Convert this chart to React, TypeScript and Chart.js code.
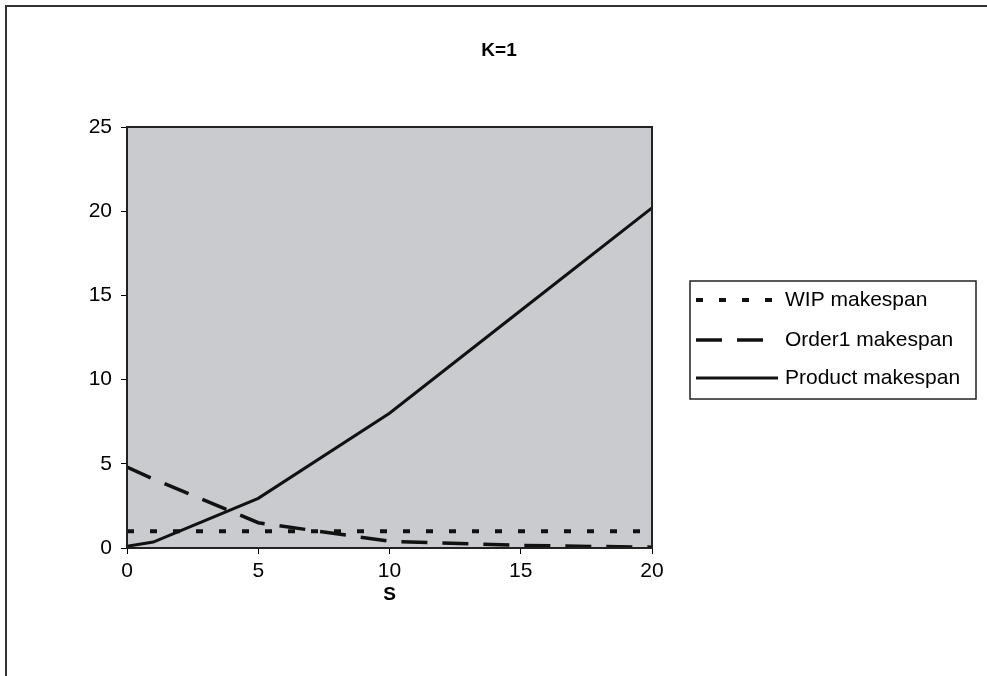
import React, { useEffect, useRef } from 'react';
import { Chart, registerables } from 'chart.js';

Chart.register(...registerables);

const sValues = [0, 1, 5, 10, 15, 20];
const wipMakespan = [1, 1, 1, 1, 1, 1];
const order1Makespan = [4.8, 4.1, 1.5, 0.4, 0.15, 0.05];
const productMakespan = [0.1, 0.35, 2.95, 8.0, 14.1, 20.2];
const seriesLabels = ['WIP makespan', 'Order1 makespan', 'Product makespan'];
const seriesDash = [[7, 16], [26, 15], []];
const seriesWidth = [4, 3.5, 3];
const chartTitle = 'K=1';
const xTitle = 'S';

const FONT = "'Liberation Sans', Arial, sans-serif";

const decor = {
  id: 'decor',
  beforeDraw(chart: any) {
    const { ctx, chartArea: a } = chart;
    ctx.save();
    ctx.fillStyle = '#ffffff';
    ctx.fillRect(0, 0, chart.width, chart.height);
    ctx.strokeStyle = '#333333';
    ctx.lineWidth = 2;
    ctx.beginPath();
    ctx.moveTo(6, chart.height);
    ctx.lineTo(6, 6);
    ctx.lineTo(chart.width, 6);
    ctx.stroke();
    ctx.fillStyle = '#c9cbcf';
    ctx.fillRect(a.left, a.top, a.right - a.left, a.bottom - a.top);
    ctx.restore();
  },
  afterDraw(chart: any) {
    const { ctx, chartArea: a } = chart;
    ctx.save();
    ctx.strokeStyle = '#222222';
    ctx.lineWidth = 2;
    ctx.strokeRect(a.left, a.top, a.right - a.left, a.bottom - a.top);
    ctx.fillStyle = '#000';
    ctx.font = `bold 19px ${FONT}`;
    ctx.textAlign = 'center';
    ctx.textBaseline = 'middle';
    ctx.fillText(chartTitle, 499, 51);
    const lx = 690, ly = 281, lw = 286, lh = 118;
    ctx.fillStyle = '#ffffff';
    ctx.fillRect(lx, ly, lw, lh);
    ctx.strokeStyle = '#222';
    ctx.lineWidth = 1.5;
    ctx.strokeRect(lx, ly, lw, lh);
    const rows = [300, 340, 378];
    chart.data.datasets.forEach((ds: any, i: number) => {
      const y = rows[i];
      ctx.save();
      ctx.strokeStyle = ds.borderColor;
      ctx.lineWidth = ds.borderWidth;
      ctx.setLineDash(ds.borderDash || []);
      ctx.beginPath();
      ctx.moveTo(696, y);
      ctx.lineTo(778, y);
      ctx.stroke();
      ctx.restore();
      ctx.fillStyle = '#000';
      ctx.font = `21px ${FONT}`;
      ctx.textAlign = 'left';
      ctx.textBaseline = 'middle';
      ctx.fillText(ds.label, 785, y);
    });
    ctx.restore();
  },
};

export default function App() {
  const ref = useRef<HTMLCanvasElement>(null);
  useEffect(() => {
    const series = [wipMakespan, order1Makespan, productMakespan];
    const chart = new Chart(ref.current as HTMLCanvasElement, {
      type: 'line',
      data: {
        datasets: series.map((vals, i) => ({
          label: seriesLabels[i],
          data: sValues.map((s, j) => ({ x: s, y: vals[j] })),
          borderColor: '#111111',
          borderWidth: seriesWidth[i],
          borderDash: seriesDash[i],
          pointRadius: 0,
          tension: 0,
          fill: false,
        })),
      },
      options: {
        responsive: false,
        animation: false,
        layout: { padding: { top: 127, right: 335, left: 0, bottom: 0 } },
        plugins: {
          legend: { display: false },
          title: { display: false },
          tooltip: { enabled: false },
        },
        scales: {
          x: {
            type: 'linear',
            min: 0,
            max: 20,
            afterFit: (s: any) => { s.height = 128; },
            ticks: { stepSize: 5, color: '#000', font: { family: FONT, size: 21 }, padding: 5, maxRotation: 0 },
            grid: { display: true, drawOnChartArea: false, drawTicks: true, tickLength: 6, color: '#000' },
            border: { display: true, color: '#111', width: 2 },
            title: {
              display: true,
              text: xTitle,
              color: '#000',
              font: { family: FONT, size: 19, weight: 'bold' },
              padding: { top: 4, bottom: 70 },
            },
          },
          y: {
            type: 'linear',
            min: 0,
            max: 25,
            afterFit: (s: any) => { s.width = 127; },
            ticks: { stepSize: 5, color: '#000', font: { family: FONT, size: 21 }, padding: 9 },
            grid: { display: true, drawOnChartArea: false, drawTicks: true, tickLength: 6, color: '#000' },
            border: { display: true, color: '#111', width: 2 },
          },
        },
      },
      plugins: [decor],
    } as any);
    return () => chart.destroy();
  }, []);
  return (
    <div style={{ position: 'fixed', left: 0, top: 0, width: 987, height: 676, background: '#fff' }}>
      <canvas ref={ref} width={987} height={676} style={{ display: 'block' }} />
    </div>
  );
}
